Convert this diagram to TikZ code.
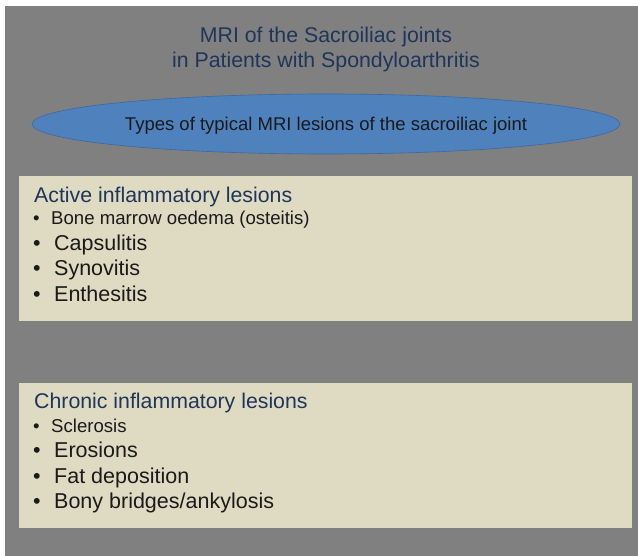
\documentclass[tikz,border=0pt]{standalone}
\usepackage{fontspec}
\setmainfont{Liberation Sans}
\usetikzlibrary{shapes.geometric}
\definecolor{bggray}{HTML}{808080}
\definecolor{navy}{HTML}{1F3559}
\definecolor{ellfill}{HTML}{4F81BD}
\definecolor{elldraw}{HTML}{3C68A0}
\definecolor{boxfill}{HTML}{DFDAC2}
\definecolor{itemtext}{HTML}{1A1A1A}
\tikzset{
  panel/.style={fill=boxfill, draw=none},
  hdr/.style={anchor=base west, inner sep=0pt, text=navy, font=\fontsize{21.3}{24}\selectfont},
  smallitem/.style={anchor=base west, inner sep=0pt, text=itemtext, font=\fontsize{18.6}{22}\selectfont},
  bigitem/.style={anchor=base west, inner sep=0pt, text=itemtext, font=\fontsize{21.5}{24}\selectfont},
  ttl/.style={anchor=base, inner sep=0pt, text=navy, font=\fontsize{21.3}{24}\selectfont},
}
\newcommand{\sbul}[1]{\makebox[18pt][l]{•}#1}
\newcommand{\bbul}[1]{\makebox[21pt][l]{•}#1}
\begin{document}
\begin{tikzpicture}[x=1pt,y=-1pt]
\useasboundingbox (0,0) rectangle (638,556);
\fill[white] (0,0) rectangle (638,556);
\fill[bggray] (5,6) rectangle (638,556);
% title
\node[ttl] (t1) at (326,43) {MRI of the Sacroiliac joints};
\node[ttl] (t2) at (326,68) {in Patients with Spondyloarthritis};
% ellipse
\node[ellipse, fill=ellfill, draw=elldraw, line width=0.6pt, minimum width=588pt, minimum height=60pt, inner sep=0pt] (ell) at (326,124) {};
\node[anchor=base, inner sep=0pt, text=itemtext, font=\fontsize{18.5}{22}\selectfont] (ellt) at (326,130.5) {Types of typical MRI lesions of the sacroiliac joint};
% box 1
\fill[panel] (19,176) rectangle (632,321);
\node[hdr] (h1) at (34,203) {Active inflammatory lesions};
\node[smallitem] (a1) at (33,225) {\sbul{Bone marrow oedema (osteitis)}};
\node[bigitem] (a2) at (33,251) {\bbul{Capsulitis}};
\node[bigitem] (a3) at (33,276) {\bbul{Synovitis}};
\node[bigitem] (a4) at (33,302) {\bbul{Enthesitis}};
% box 2
\fill[panel] (19,383) rectangle (632,528);
\node[hdr] (h2) at (34,408) {Chronic inflammatory lesions};
\node[smallitem] (c1) at (33,432) {\sbul{Sclerosis}};
\node[bigitem] (c2) at (33,457) {\bbul{Erosions}};
\node[bigitem] (c3) at (33,483) {\bbul{Fat deposition}};
\node[bigitem] (c4) at (33,508) {\bbul{Bony bridges/ankylosis}};
\end{tikzpicture}
\end{document}
